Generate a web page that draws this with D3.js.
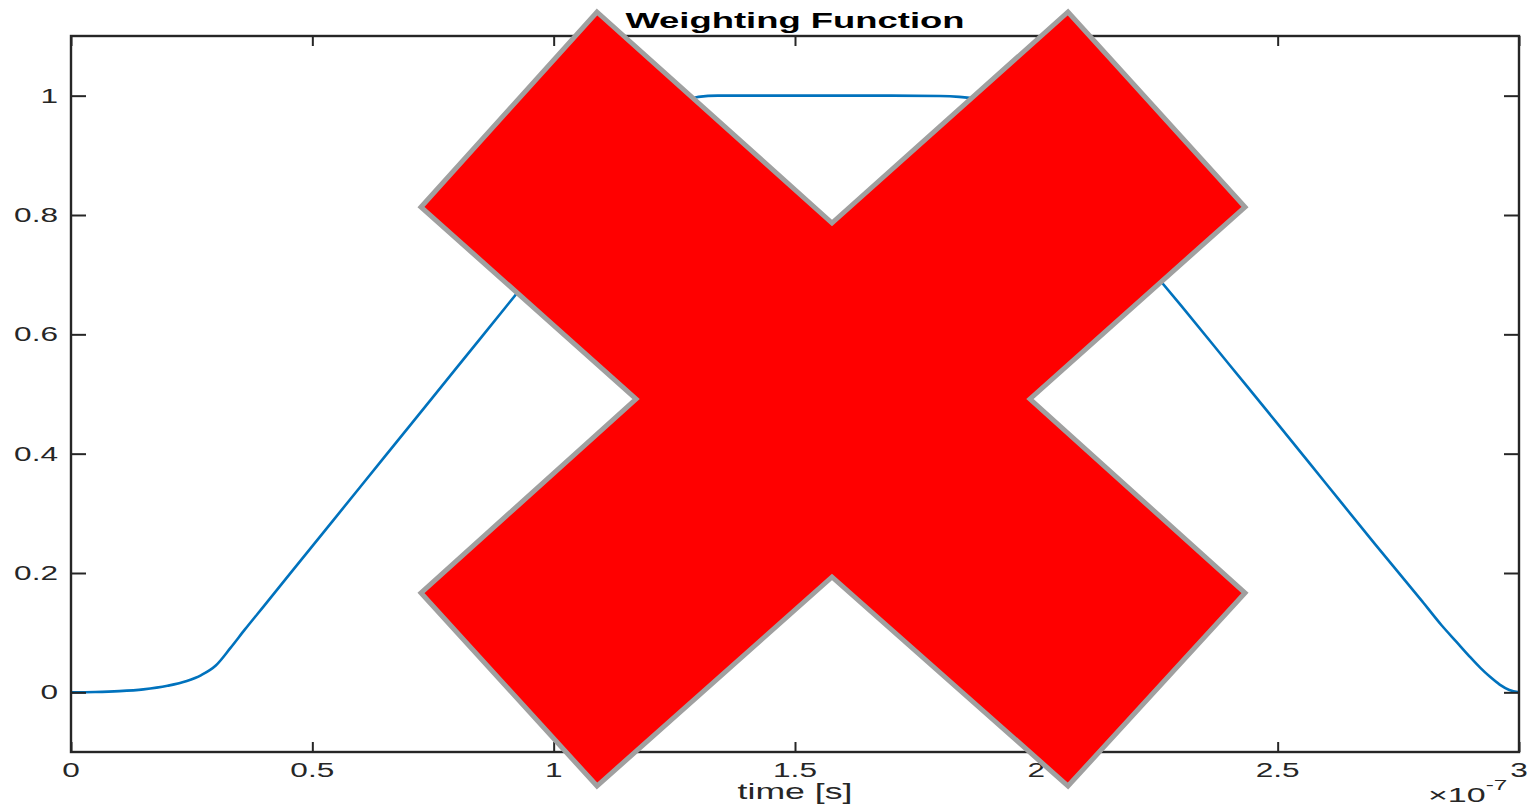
<!DOCTYPE html>
<html>
<head>
<meta charset="utf-8">
<script src="https://cdn.jsdelivr.net/npm/d3@7"></script>
<style>
  html, body { margin: 0; padding: 0; background: #fff; }
  svg { display: block; }
  text { font-family: "Liberation Sans", Arial, Helvetica, sans-serif; fill: #262626; }
</style>
</head>
<body>
<script>
// Sample times (seconds) and weighting values
const timeSec = [0, 0.05e-7, 0.10e-7, 0.15e-7, 0.20e-7, 0.24e-7, 0.27e-7, 0.30e-7, 0.33e-7, 0.36e-7,
  0.40e-7, 0.50e-7, 0.60e-7, 0.70e-7, 0.80e-7, 0.90e-7, 1.00e-7, 1.10e-7, 1.15e-7, 1.20e-7,
  1.24e-7, 1.27e-7, 1.30e-7, 1.34e-7, 1.40e-7, 1.50e-7, 1.60e-7, 1.70e-7, 1.80e-7, 1.84e-7,
  1.88e-7, 1.92e-7, 1.96e-7, 2.00e-7, 2.05e-7, 2.10e-7, 2.20e-7, 2.30e-7, 2.40e-7, 2.50e-7,
  2.60e-7, 2.70e-7, 2.80e-7, 2.84e-7, 2.87e-7, 2.90e-7, 2.92e-7, 2.94e-7, 2.96e-7, 2.98e-7, 3.00e-7];
const weight = [0, 0.0005, 0.002, 0.005, 0.011, 0.019, 0.029, 0.045, 0.074, 0.105,
  0.145, 0.245, 0.345, 0.445, 0.545, 0.645, 0.745, 0.845, 0.894, 0.94,
  0.972, 0.989, 0.998, 1.0, 1.0, 1.0, 1.0, 1.0, 0.9995, 0.998,
  0.994, 0.983, 0.962, 0.932, 0.89, 0.843, 0.745, 0.648, 0.549, 0.45,
  0.35, 0.25, 0.152, 0.112, 0.085, 0.058, 0.041, 0.026, 0.013, 0.004, 0];

// Axis ticks
const xTicks = [0, 0.5e-7, 1e-7, 1.5e-7, 2e-7, 2.5e-7, 3e-7];
const xTickLabels = ["0", "0.5", "1", "1.5", "2", "2.5", "3"];
const yTicks = [0, 0.2, 0.4, 0.6, 0.8, 1];
const yTickLabels = ["0", "0.2", "0.4", "0.6", "0.8", "1"];

const titleText = "Weighting Function";
const xLabelText = "time [s]";

// "Stop" cross outline, as offsets from its centre
const crossShape = [[-236, -387], [-1, -176], [235, -387], [412, -192], [197, 0], [412, 194],
  [235, 387], [-1, 178], [-236, 387], [-412, 194], [-197, 0], [-412, -192]];

const W = 1527, H = 805;
const plot = { left: 71, right: 1519, top: 36, bottom: 752 };
const stretch = 1.62;

const svg = d3.select("body").append("svg").attr("width", W).attr("height", H);

const x = d3.scaleLinear().domain([0, 3e-7]).range([plot.left, plot.right]);
const y = d3.scaleLinear().domain([-0.1, 1.1]).range([plot.bottom, plot.top]);

// Data line
const pts = timeSec.map((t, i) => [t, weight[i]]);
svg.append("path")
  .datum(pts)
  .attr("fill", "none")
  .attr("stroke", "#0072BD")
  .attr("stroke-width", 2.6)
  .attr("stroke-linejoin", "round")
  .attr("d", d3.line().x(d => x(d[0])).y(d => y(d[1])).curve(d3.curveMonotoneX));

// Axes: ticks point inward on all four sides
const axisColor = "#262626";
function styleAxis(g) {
  g.select(".domain").remove();
  g.selectAll(".tick line").attr("stroke", axisColor).attr("stroke-width", 2);
  g.selectAll(".tick text").remove();
}
svg.append("g").attr("transform", `translate(0,${plot.bottom})`)
  .call(d3.axisBottom(x).tickValues(xTicks).tickSize(-10).tickSizeOuter(0)).call(styleAxis);
svg.append("g").attr("transform", `translate(0,${plot.top})`)
  .call(d3.axisTop(x).tickValues(xTicks).tickSize(-10).tickSizeOuter(0)).call(styleAxis);
svg.append("g").attr("transform", `translate(${plot.left},0)`)
  .call(d3.axisLeft(y).tickValues(yTicks).tickSize(-15).tickSizeOuter(0)).call(styleAxis);
svg.append("g").attr("transform", `translate(${plot.right},0)`)
  .call(d3.axisRight(y).tickValues(yTicks).tickSize(-15).tickSizeOuter(0)).call(styleAxis);

// Box
svg.append("rect")
  .attr("x", plot.left).attr("y", plot.top)
  .attr("width", plot.right - plot.left).attr("height", plot.bottom - plot.top)
  .attr("fill", "none").attr("stroke", axisColor).attr("stroke-width", 2.4);

// Tick labels
svg.append("g").selectAll("text").data(xTicks).join("text")
  .attr("transform", d => `translate(${x(d)},777) scale(${stretch},1)`)
  .attr("text-anchor", "middle")
  .style("font-size", "19.5px")
  .text((d, i) => xTickLabels[i]);
svg.append("g").selectAll("text").data(yTicks).join("text")
  .attr("transform", d => `translate(58,${y(d) + 7}) scale(${stretch},1)`)
  .attr("text-anchor", "end")
  .style("font-size", "19.5px")
  .text((d, i) => yTickLabels[i]);

// Exponent label
const expo = svg.append("text")
  .attr("transform", `translate(1428,802) scale(${stretch},1)`)
  .style("font-size", "21px");
expo.append("tspan").text("\u00d710");
expo.append("tspan").attr("dy", -12).style("font-size", "15px").text("-7");

// Axis label and title
svg.append("text")
  .attr("transform", `translate(${(plot.left + plot.right) / 2},799) scale(${stretch},1)`)
  .attr("text-anchor", "middle")
  .style("font-size", "22px")
  .text(xLabelText);
svg.append("text")
  .attr("transform", `translate(${(plot.left + plot.right) / 2},28) scale(${stretch},1)`)
  .attr("text-anchor", "middle")
  .style("font-size", "22.5px")
  .style("font-weight", "bold")
  .style("fill", "#000")
  .text(titleText);

// Red cross drawn over everything
const cx = 833, cy = 399;
svg.append("path")
  .attr("d", d3.line()(crossShape.map(p => [cx + p[0], cy + p[1]])) + "Z")
  .attr("fill", "#ff0000")
  .attr("stroke", "#a0a0a0")
  .attr("stroke-width", 5)
  .attr("stroke-linejoin", "miter")
  .attr("stroke-miterlimit", 10);
</script>
</body>
</html>
